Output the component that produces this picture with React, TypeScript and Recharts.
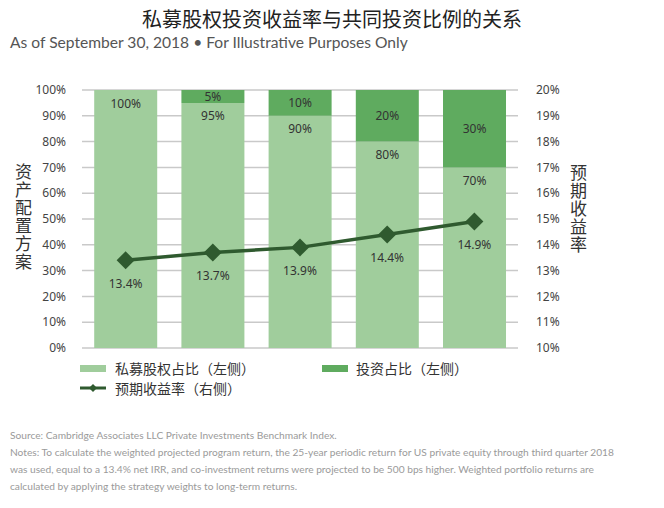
import {
  ComposedChart,
  Bar,
  Line,
  XAxis,
  YAxis,
  CartesianGrid,
  LabelList,
} from 'recharts';

const categories = ['A', 'B', 'C', 'D', 'E'];
const privateShare = [100, 95, 90, 80, 70];
const coInvestShare = [0, 5, 10, 20, 30];
const expectedReturn = [13.4, 13.7, 13.9, 14.4, 14.9];
const leftTicks = [0, 10, 20, 30, 40, 50, 60, 70, 80, 90, 100];
const rightTicks = [10, 11, 12, 13, 14, 15, 16, 17, 18, 19, 20];

const LIGHT = '#a0cd9c';
const DARK = '#5fab5f';
const LINE = '#2f5a2f';

const data = categories.map((c, i) => ({
  name: c,
  pe: privateShare[i],
  co: coInvestShare[i],
  ret: expectedReturn[i],
}));

const tickStyle = { fontSize: 12, fill: '#444', fontFamily: '"Noto Sans", sans-serif' };
const labelStyle = { fontSize: 12, fill: '#333', fontFamily: '"Noto Sans", sans-serif' };
const cjk = '"Noto Sans CJK SC", sans-serif';
const latin = 'Lato, sans-serif';

function Diamond(props: any) {
  const { cx, cy } = props;
  if (cx == null || cy == null) return null;
  const r = 9;
  return (
    <polygon
      points={`${cx},${cy - r} ${cx + r},${cy} ${cx},${cy + r} ${cx - r},${cy}`}
      fill={LINE}
    />
  );
}

const vertTitle = {
  position: 'absolute' as const,
  writingMode: 'vertical-rl' as const,
  textOrientation: 'upright' as const,
  fontSize: 17,
  lineHeight: '18px',
  letterSpacing: 1,
  color: '#333',
};

export default function App() {
  return (
    <div
      style={{
        position: 'absolute',
        left: 0,
        top: 0,
        width: 664,
        height: 508,
        background: '#fff',
        fontFamily: cjk,
      }}
    >
      <div
        style={{
          position: 'absolute',
          top: 4,
          left: 0,
          width: 664,
          textAlign: 'center',
          fontSize: 20,
          color: '#222',
          fontFamily: cjk,
        }}
      >
        私募股权投资收益率与共同投资比例的关系
      </div>
      <div
        style={{
          position: 'absolute',
          top: 33,
          left: 10,
          fontSize: 15.6,
          color: '#555',
          fontFamily: latin,
          whiteSpace: 'nowrap',
        }}
      >
        As of September 30, 2018 • For Illustrative Purposes Only
      </div>

      <div style={{ position: 'absolute', left: 0, top: 0 }}>
        <ComposedChart
          width={664}
          height={400}
          data={data}
          margin={{ top: 90, right: 96, left: 30, bottom: 52 }}
          barCategoryGap="14%"
        >
          <CartesianGrid vertical={false} stroke="#c9c9c9" strokeWidth={1.5} yAxisId="left" />
          <XAxis dataKey="name" hide />
          <YAxis
            yAxisId="left"
            width={52}
            domain={[0, 100]}
            ticks={leftTicks}
            tickFormatter={(v: number) => `${v}%`}
            axisLine={false}
            tickLine={false}
            tick={tickStyle}
            tickMargin={10}
          />
          <YAxis
            yAxisId="right"
            orientation="right"
            width={50}
            domain={[10, 20]}
            ticks={rightTicks}
            tickFormatter={(v: number) => `${v}%`}
            axisLine={false}
            tickLine={false}
            tick={{ ...tickStyle, textAnchor: 'start' }}
            tickMargin={12}
          />
          <Bar yAxisId="left" dataKey="pe" stackId="s" fill={LIGHT} isAnimationActive={false}>
            <LabelList
              dataKey="pe"
              position="insideTop"
              offset={9}
              style={labelStyle}
              formatter={(v: any) => `${v}%`}
            />
          </Bar>
          <Bar yAxisId="left" dataKey="co" stackId="s" fill={DARK} isAnimationActive={false}>
            <LabelList
              dataKey="co"
              position="center"
              style={labelStyle}
              formatter={(v: any) => (v ? `${v}%` : '')}
            />
          </Bar>
          <Line
            yAxisId="right"
            dataKey="ret"
            stroke={LINE}
            strokeWidth={3.5}
            dot={<Diamond />}
            activeDot={false}
            isAnimationActive={false}
          >
            <LabelList
              dataKey="ret"
              position="bottom"
              offset={19}
              style={labelStyle}
              formatter={(v: any) => `${Number(v).toFixed(1)}%`}
            />
          </Line>
        </ComposedChart>
      </div>

      <div style={{ ...vertTitle, left: 14, top: 163 }}>资产配置方案</div>
      <div style={{ ...vertTitle, left: 569, top: 164 }}>预期收益率</div>

      {/* legend */}
      <div style={{ position: 'absolute', left: 80, top: 358, fontSize: 14, color: '#333' }}>
        <div style={{ display: 'flex', alignItems: 'center', height: 20 }}>
          <div style={{ width: 26, height: 7, background: LIGHT }} />
          <span style={{ marginLeft: 9, width: 207 }}>私募股权占比（左侧）</span>
          <div style={{ width: 26, height: 7, background: DARK }} />
          <span style={{ marginLeft: 8 }}>投资占比（左侧）</span>
        </div>
        <div style={{ display: 'flex', alignItems: 'center', height: 20 }}>
          <svg width={26} height={10}>
            <line x1={0} y1={5} x2={26} y2={5} stroke={LINE} strokeWidth={3} />
            <polygon points="13,1 17,5 13,9 9,5" fill={LINE} />
          </svg>
          <span style={{ marginLeft: 9 }}>预期收益率（右侧）</span>
        </div>
      </div>

      <div
        style={{
          position: 'absolute',
          left: 10,
          top: 427,
          fontSize: 10.2,
          lineHeight: '17px',
          color: '#9a9a9a',
          fontFamily: latin,
          whiteSpace: 'nowrap',
        }}
      >
        Source: Cambridge Associates LLC Private Investments Benchmark Index.
        <br />
        Notes: To calculate the weighted projected program return, the 25-year periodic return for US private equity through third quarter 2018
        <br />
        was used, equal to a 13.4% net IRR, and co-investment returns were projected to be 500 bps higher. Weighted portfolio returns are
        <br />
        calculated by applying the strategy weights to long-term returns.
      </div>
    </div>
  );
}
